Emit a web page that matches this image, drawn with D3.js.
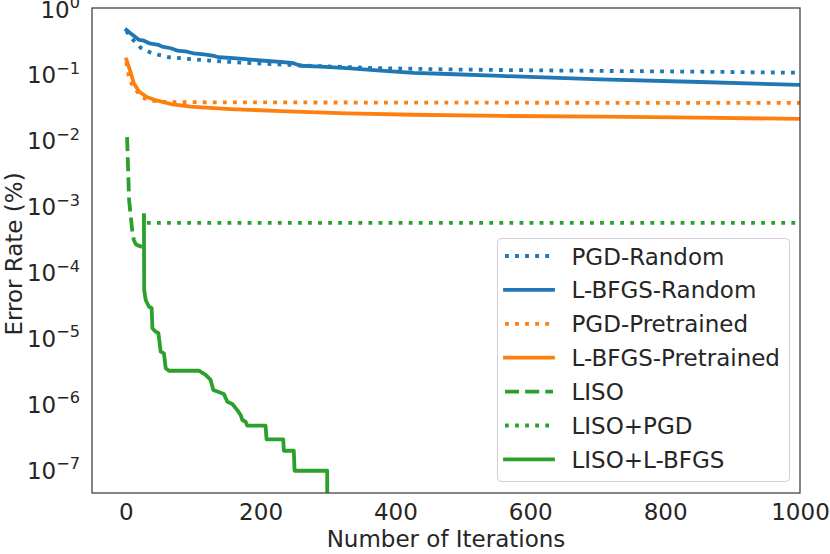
<!DOCTYPE html>
<html>
<head>
<meta charset="utf-8">
<script src="https://cdn.jsdelivr.net/npm/d3@7"></script>
<style>
  body { margin: 0; background: white; }
  text { font-family: "DejaVu Sans", sans-serif; fill: #262626; }
</style>
</head>
<body>
<div id="chart"></div>
<script>
//Chart data: [iteration, error rate]
const pgdRandom = [[1, 0.45], [5, 0.38], [10, 0.335], [22, 0.25], [37, 0.21], [49, 0.194], [64, 0.179], [81, 0.173],
    [131, 0.157], [190, 0.145], [279, 0.132], [378, 0.122], [477, 0.117], [556, 0.1146], [704, 0.111], [852, 0.108], [1000, 0.104]];
const lbfgsRandom = [[1, 0.464], [7, 0.413], [20, 0.327], [27, 0.319], [35, 0.291], [49, 0.275], [54, 0.259], [67, 0.245],
    [77, 0.225], [91, 0.217], [101, 0.205], [116, 0.198], [131, 0.187], [138, 0.179], [160, 0.173], [190, 0.163],
    [210, 0.157], [230, 0.152], [249, 0.145], [259, 0.133], [289, 0.129], [328, 0.122], [378, 0.112], [427, 0.104],
    [477, 0.0996], [556, 0.093], [704, 0.0828], [852, 0.0754], [1000, 0.068]];
const pgdPretrained = [[1, 0.15], [4, 0.1], [7, 0.0762], [15, 0.057], [25, 0.0435], [40, 0.0392], [57, 0.0375],
    [131, 0.037], [500, 0.0366], [1000, 0.0362]];
const lbfgsPretrained = [[1, 0.165], [7, 0.108], [12, 0.072], [20, 0.0537], [32, 0.0442], [47, 0.0392], [67, 0.0349],
    [96, 0.0318], [155, 0.0293], [230, 0.0273], [328, 0.0252], [427, 0.024], [556, 0.023], [704, 0.0224],
    [852, 0.0217], [1000, 0.0207]];
const liso = [[2, 0.011], [5, 1.22e-3], [10, 3.86e-4], [12, 3.02e-4], [15, 2.6e-4], [18, 2.5e-4], [27, 2.32e-4]];
const lisoPgd = [[27, 7.2e-4], [28, 5.5e-4], [1000, 5.5e-4]];
const lisoLbfgs = [[27, 7.2e-4], [27.4, 5.26e-5], [29.6, 3.71e-5], [34.5, 2.93e-5], [38.5, 2.8e-5], [39.6, 1.38e-5],
    [44.4, 1.22e-5], [48.4, 1.17e-5], [51.9, 6.09e-6], [56.7, 5.75e-6], [59.3, 3.41e-6], [64.1, 3.13e-6],
    [108.6, 3.13e-6], [118.5, 2.7e-6], [125.9, 2.27e-6], [129.9, 1.6e-6], [135.9, 1.51e-6], [145.6, 1.39e-6],
    [150.7, 1.06e-6], [158.1, 9.8e-7], [165.5, 7.9e-7], [170.4, 6.67e-7], [172.9, 5.6e-7], [177.8, 5.27e-7],
    [180.3, 4.59e-7], [207.4, 4.59e-7], [208.9, 2.85e-7], [233.6, 2.85e-7], [234.5, 1.91e-7], [249.3, 1.91e-7],
    [250.4, 9.5e-8], [298.8, 9.5e-8], [299.3, 1e-10]];

//Series names and styles in legend order
const seriesNames = ["PGD-Random", "L-BFGS-Random", "PGD-Pretrained", "L-BFGS-Pretrained", "LISO", "LISO+PGD", "LISO+L-BFGS"];
const seriesData = [pgdRandom, lbfgsRandom, pgdPretrained, lbfgsPretrained, liso, lisoPgd, lisoLbfgs];
const seriesColors = ["#1f77b4", "#1f77b4", "#ff7f0e", "#ff7f0e", "#2ca02c", "#2ca02c", "#2ca02c"];
const seriesDash = ["dot", "solid", "dot", "solid", "dash", "dot", "solid"];

//Axis ticks
const xTicks = [0, 200, 400, 600, 800, 1000];
const yExponents = [0, -1, -2, -3, -4, -5, -6, -7];

//Size of the picture
const w = 830;
const h = 554;
const margin = {left: 92, right: 30, top: 8, bottom: 61};
const lw = 3.8;
const fontSize = 23;

const dashArray = {
    dot: `${lw},${lw * 1.65}`,
    dash: `${lw * 3.7},${lw * 1.6}`,
    solid: null
};

const svg = d3.select("#chart")
    .append("svg")
    .attr("width", w)
    .attr("height", h);

//Scales
const x = d3.scaleLinear()
    .domain([-50, 1000])
    .range([margin.left, w - margin.right]);

const y = d3.scaleLog()
    .domain([Math.pow(10, -7.36), 1])
    .range([h - margin.bottom, margin.top]);

//Clip lines to the axes box
svg.append("clipPath")
    .attr("id", "plot-clip")
    .append("rect")
    .attr("x", margin.left)
    .attr("y", margin.top)
    .attr("width", w - margin.left - margin.right)
    .attr("height", h - margin.top - margin.bottom);

const line = d3.line()
    .x(d => x(d[0]))
    .y(d => y(d[1]));

const plot = svg.append("g").attr("clip-path", "url(#plot-clip)");

seriesData.forEach((data, i) => {
    plot.append("path")
        .datum(data)
        .attr("d", line)
        .attr("fill", "none")
        .attr("stroke", seriesColors[i])
        .attr("stroke-width", lw)
        .attr("stroke-linejoin", "round")
        .attr("stroke-linecap", seriesDash[i] == "solid" ? "square" : "butt")
        .attr("stroke-dasharray", dashArray[seriesDash[i]]);
});

//Axes box
svg.append("rect")
    .attr("x", margin.left)
    .attr("y", margin.top)
    .attr("width", w - margin.left - margin.right)
    .attr("height", h - margin.top - margin.bottom)
    .attr("fill", "none")
    .attr("stroke", "#444")
    .attr("stroke-width", 1.3);

//X axis labels (no tick marks)
const xAxis = d3.axisBottom(x).tickValues(xTicks).tickFormat(d3.format("d")).tickSize(0).tickPadding(11);
svg.append("g")
    .attr("transform", `translate(0,${h - margin.bottom})`)
    .call(xAxis)
    .call(g => g.select(".domain").remove())
    .selectAll("text")
    .attr("font-size", fontSize)
    .attr("font-family", "DejaVu Sans")
    .attr("fill", "#262626");

//Y axis labels as 10^n
const yAxis = svg.append("g");
yExponents.forEach(e => {
    const t = yAxis.append("text")
        .attr("x", margin.left - 12)
        .attr("y", y(Math.pow(10, e)) + 9.5)
        .attr("text-anchor", "end")
        .attr("font-size", fontSize);
    t.append("tspan").text("10");
    t.append("tspan")
        .attr("font-size", fontSize * 0.7)
        .attr("dy", -9.5)
        .text(e == 0 ? "0" : "\u2212" + (-e));
});

//Axis titles
svg.append("text")
    .attr("x", (margin.left + w - margin.right) / 2)
    .attr("y", h - 7)
    .attr("text-anchor", "middle")
    .attr("font-size", fontSize)
    .text("Number of Iterations");

svg.append("text")
    .attr("transform", "translate(22,254) rotate(-90)")
    .attr("text-anchor", "middle")
    .attr("font-size", fontSize)
    .text("Error Rate (%)");

//Legend
const legend = svg.append("g").attr("transform", "translate(497.5,238.5)");
legend.append("rect")
    .attr("width", 292)
    .attr("height", 243)
    .attr("rx", 4)
    .attr("fill", "white")
    .attr("fill-opacity", 0.8)
    .attr("stroke", "#d0d0d0")
    .attr("stroke-width", 1);

seriesNames.forEach((name, i) => {
    const rowY = 17.5 + i * 33.9;
    legend.append("line")
        .attr("x1", 7.5)
        .attr("x2", 55.5)
        .attr("y1", rowY)
        .attr("y2", rowY)
        .attr("stroke", seriesColors[i])
        .attr("stroke-width", lw)
        .attr("stroke-linecap", seriesDash[i] == "solid" ? "square" : "butt")
        .attr("stroke-dasharray", dashArray[seriesDash[i]]);
    legend.append("text")
        .attr("x", 74)
        .attr("y", rowY + 8.5)
        .attr("font-size", fontSize)
        .text(name);
});
</script>
</body>
</html>
